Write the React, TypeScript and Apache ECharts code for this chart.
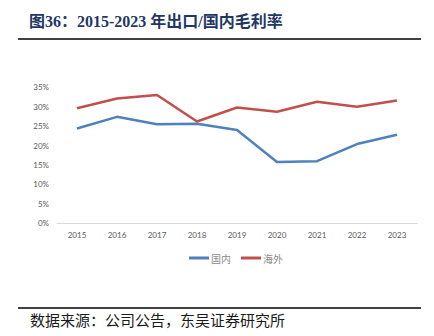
import React, { useEffect, useRef } from "react";
import * as echarts from "echarts";

const years = ["2015", "2016", "2017", "2018", "2019", "2020", "2021", "2022", "2023"];
const domestic = [24.4, 27.4, 25.5, 25.6, 24.0, 15.8, 16.0, 20.4, 22.8];
const overseas = [29.6, 32.1, 33.0, 26.2, 29.8, 28.7, 31.3, 30.0, 31.6];
const seriesNames = ["国内", "海外"];
const titleText = "图36：2015-2023 年出口/国内毛利率";
const sourceText = "数据来源：公司公告，东吴证券研究所";

export default function App() {
  const ref = useRef<HTMLDivElement>(null);
  useEffect(() => {
    document.body.style.margin = "0";
    const chart = echarts.init(ref.current!, null, { renderer: "svg" });
    chart.setOption({
      animation: false,
      backgroundColor: "#ffffff",
      grid: { left: 57, right: 17, top: 87.3, bottom: 112.7 },
      legend: {
        left: 184,
        top: 248,
        itemWidth: 20,
        itemHeight: 3,
        itemGap: 10,
        icon: "rect",
        textStyle: { fontSize: 10, color: "#8c8c8c", fontFamily: "Noto Sans CJK SC", padding: [0, 0, 0, -3] },
        data: seriesNames,
      },
      xAxis: {
        type: "category",
        data: years,
        boundaryGap: true,
        axisLine: { lineStyle: { color: "#d9d9d9", width: 1 } },
        axisTick: { show: false },
        axisLabel: { fontSize: 8, color: "#595959", fontFamily: "Lato", margin: 8 },
      },
      yAxis: {
        type: "value",
        min: 0,
        max: 35,
        interval: 5,
        splitLine: { show: false },
        axisLine: { show: false },
        axisTick: { show: false },
        axisLabel: { fontSize: 8, color: "#595959", fontFamily: "Lato", margin: 8, formatter: "{value}%" },
      },
      series: [
        {
          name: seriesNames[0],
          type: "line",
          data: domestic,
          symbol: "none",
          lineStyle: { color: "#4f81bd", width: 2.5 },
          itemStyle: { color: "#4f81bd" },
        },
        {
          name: seriesNames[1],
          type: "line",
          data: overseas,
          symbol: "none",
          lineStyle: { color: "#c0504d", width: 2.5 },
          itemStyle: { color: "#c0504d" },
        },
      ],
      graphic: [
        {
          type: "text",
          left: 29,
          top: 13,
          style: {
            text: titleText,
            fontSize: 16,
            fontWeight: "bold",
            fill: "#1f3864",
            fontFamily: "Liberation Serif, Noto Sans CJK SC",
          },
        },
        {
          type: "line",
          shape: { x1: 18, y1: 39, x2: 421, y2: 39 },
          style: { stroke: "#000000", lineWidth: 1.5 },
        },
        {
          type: "line",
          shape: { x1: 18, y1: 308, x2: 421, y2: 308 },
          style: { stroke: "#000000", lineWidth: 1.5 },
        },
        {
          type: "text",
          left: 30,
          top: 312,
          style: {
            text: sourceText,
            fontSize: 15,
            fill: "#1a1a1a",
            fontFamily: "Noto Sans CJK SC",
          },
        },
      ],
    });
    return () => chart.dispose();
  }, []);
  return <div ref={ref} style={{ width: 434, height: 336 }} />;
}
